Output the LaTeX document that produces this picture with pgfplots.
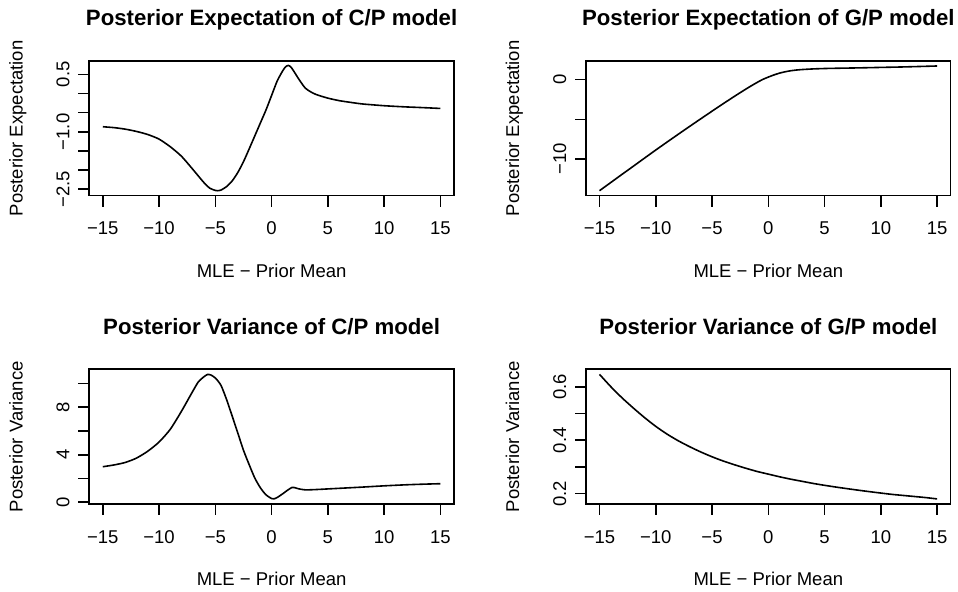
\documentclass[border=0pt]{standalone}
\usepackage{fontspec}
\setmainfont{Liberation Sans}
\usepackage{pgfplots}
\pgfplotsset{compat=1.18}
\pgfplotsset{
  rpanel/.style={
    scale only axis, width=182.3pt, height=67.35pt, anchor=south west,
    xmin=-16.2, xmax=16.2,
    axis line style={line width=0.8pt},
    tick style={line width=0.8pt, black},
    tick align=outside, major tick length=5.5pt, tick pos=left,
    xtick={-15,-10,-5,0,5,10,15},
    xticklabels={−15,−10,−5,0,5,10,15},
    xticklabel style={font=\fontsize{9.25}{11}\selectfont, anchor=base, yshift=-14.15pt},
    yticklabel style={font=\fontsize{9.25}{11}\selectfont, rotate=90, anchor=base, yshift=4.5pt},
    title style={font=\fontsize{11.1}{13}\selectfont\bfseries, at={(axis description cs:0.5,1.1707)}, anchor=base},
    xlabel style={font=\fontsize{9.25}{11}\selectfont, at={(axis description cs:0.5,-0.6088)}, anchor=base},
    ylabel style={font=\fontsize{9.25}{11}\selectfont, at={(axis description cs:-0.1832,0.5)}, rotate=0, anchor=base},
    xlabel={MLE − Prior Mean},
  },
  rline/.style={black, line width=0.8pt, no marks, smooth, tension=0.4},
}
\begin{document}
\begin{tikzpicture}
\path[use as bounding box] (0,0) rectangle (479pt,296pt);
% Panel 1
\begin{axis}[rpanel, at={(44.65pt,198.15pt)},
  ymin=-2.667, ymax=0.85,
  ytick={-2.5,-2,-1.5,-1,-0.5,0,0.5},
  yticklabels={−2.5,{},{},−1.0,{},{},0.5},
  title={Posterior Expectation of C/P model},
  ylabel={Posterior Expectation}]
\addplot[rline] coordinates {
(-15,-0.867) (-14,-0.89) (-13,-0.93) (-12,-0.99) (-11,-1.07) (-10,-1.19)
(-9,-1.39) (-8,-1.64) (-7,-1.98) (-6,-2.33) (-5.5,-2.47) (-5,-2.53)
(-4.8,-2.537) (-4.5,-2.52) (-4,-2.43) (-3.5,-2.28) (-3,-2.06) (-2.5,-1.78)
(-2,-1.45) (-1.5,-1.11) (-1,-0.77) (-0.5,-0.43) (0,-0.05) (0.5,0.33)
(1,0.60) (1.25,0.70) (1.5,0.735) (1.75,0.68) (2,0.57) (2.5,0.34) (3,0.14)
(3.5,0.04) (4,-0.03) (5,-0.12) (6,-0.185) (7,-0.23) (8,-0.27) (9,-0.295)
(10,-0.318) (11,-0.335) (12,-0.35) (13,-0.362) (14,-0.375) (15,-0.389)
};
\end{axis}
% Panel 2
\begin{axis}[rpanel, at={(293pt,198.15pt)},
  ymin=-14.63, ymax=2.36,
  ytick={-10,-5,0},
  yticklabels={−10,{},0},
  title={Posterior Expectation of G/P model},
  ylabel={Posterior Expectation}]
\addplot[rline] coordinates {
(-15,-14.0) (-14,-12.97) (-13,-11.94) (-12,-10.92) (-11,-9.89) (-10,-8.87)
(-9,-7.87) (-8,-6.88) (-7,-5.90) (-6,-4.93) (-5,-3.97) (-4,-3.02) (-3,-2.09)
(-2,-1.19) (-1.5,-0.76) (-1,-0.35) (-0.5,0.03) (0,0.33) (0.5,0.6) (1,0.83)
(1.5,1.0) (2,1.13) (2.5,1.22) (3,1.28) (4,1.36) (5,1.41) (6,1.44) (8,1.49)
(10,1.55) (12,1.61) (15,1.73)
};
\end{axis}
% Panel 3
\begin{axis}[rpanel, at={(44.65pt,44pt)},
  ymin=-0.15, ymax=11.2,
  ytick={0,2,4,6,8,10},
  yticklabels={0,{},4,{},8,{}},
  title={Posterior Variance of C/P model},
  ylabel={Posterior Variance}]
\addplot[rline] coordinates {
(-15,2.99) (-14,3.14) (-13,3.35) (-12,3.72) (-11,4.30) (-10,5.07) (-9,6.15)
(-8,7.68) (-7,9.36) (-6.5,10.15) (-6,10.58) (-5.7,10.76) (-5.4,10.72)
(-5,10.47) (-4.5,9.85) (-4,8.65) (-3.5,7.25) (-3,5.82) (-2.5,4.38) (-2,3.18)
(-1.5,2.05) (-1,1.22) (-0.5,0.62) (0,0.31) (0.2,0.28) (0.5,0.40) (1,0.72)
(1.4,1.0) (1.8,1.24) (2.0,1.24) (2.4,1.13) (3,1.04) (4,1.07) (5,1.12)
(6,1.17) (8,1.27) (10,1.38) (12,1.47) (13.5,1.52) (15,1.56)
};
\end{axis}
% Panel 4
\begin{axis}[rpanel, at={(293pt,44pt)},
  ymin=0.161, ymax=0.666,
  ytick={0.2,0.3,0.4,0.5,0.6},
  yticklabels={0.2,{},0.4,{},0.6},
  title={Posterior Variance of G/P model},
  ylabel={Posterior Variance}]
\addplot[rline] coordinates {
(-15,0.647) (-14,0.601) (-13,0.559) (-12,0.521) (-11,0.485) (-10,0.452)
(-9,0.423) (-8,0.398) (-7,0.376) (-6,0.356) (-5,0.338) (-4,0.322) (-3,0.308)
(-2,0.295) (-1,0.283) (0,0.273) (1,0.263) (2,0.254) (3,0.246) (4,0.238)
(5,0.231) (6,0.2245) (7,0.2185) (8,0.2127) (9,0.2072) (10,0.202) (11,0.197)
(12,0.193) (13,0.189) (14,0.185) (15,0.180)
};
\end{axis}
\end{tikzpicture}
\end{document}
